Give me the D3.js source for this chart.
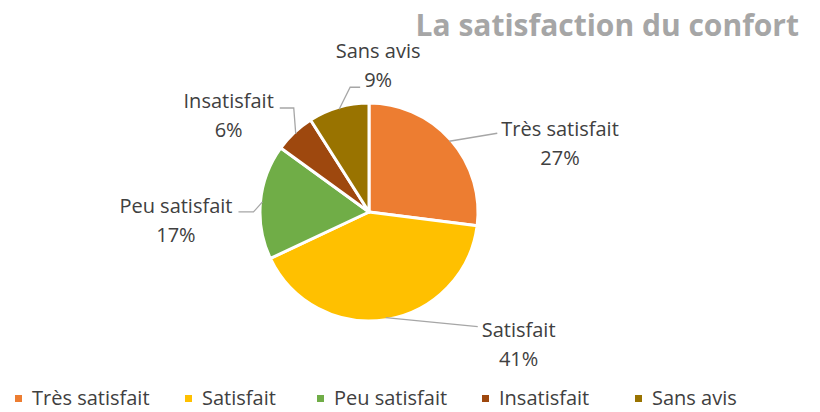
<!DOCTYPE html>
<html>
<head>
<meta charset="utf-8">
<script src="https://cdn.jsdelivr.net/npm/d3@7"></script>
<style>
  body { margin: 0; background: #fff; }
  text { font-family: "Open Sans", sans-serif; }
</style>
</head>
<body>
<div id="chart"></div>
<script>
// données
var categories = ["Très satisfait", "Satisfait", "Peu satisfait", "Insatisfait", "Sans avis"];
var values = [27, 41, 17, 6, 9];
var colors = ["#ED7D31", "#FFC000", "#70AD47", "#9E480E", "#997300"];

var width = 820, height = 412;
var cx = 369, cy = 212, radius = 109;

// leader line end relative to the slice edge, and text baseline offset (layout only)
var leaderEnd = [[48, -8], [92, 9], [-24, 10], [-16, -26], [21, -22]];
var textDy = [3, 10, 1, 0, 0];
var labelAnchor = ["start", "start", "end", "end", "top"];

var svg = d3.select("#chart").append("svg")
    .attr("width", width).attr("height", height);

svg.append("text")
    .attr("x", 799).attr("y", 36)
    .attr("text-anchor", "end")
    .style("font-size", "30px").style("font-weight", "bold")
    .style("fill", "#A6A6A6")
    .text("La satisfaction du confort");

var data = categories.map(function(c, i){ return {cat: c, val: values[i], color: colors[i]}; });
var total = d3.sum(values);

var pie = d3.pie().value(function(d){ return d.val; }).sort(null);
var arc = d3.arc().innerRadius(0).outerRadius(radius);
var arcs = pie(data);

var g = svg.append("g").attr("transform", "translate(" + cx + "," + cy + ")");

g.selectAll("path").data(arcs).enter().append("path")
    .attr("d", arc)
    .style("fill", function(d){ return d.data.color; })
    .style("stroke", "#fff")
    .style("stroke-width", 3)
    .style("stroke-linejoin", "round");

function polar(a, r){ return [Math.sin(a) * r, -Math.cos(a) * r]; }

arcs.forEach(function(d, i){
    var mid = (d.startAngle + d.endAngle) / 2;
    var p0 = polar(mid, radius - 2);
    var off = leaderEnd[i];
    var p1 = [p0[0] + off[0], p0[1] + off[1]];
    var pts;
    if (i == 2) pts = [p0, [p1[0] + 15, p1[1]], p1];
    else if (i == 3) pts = [p0, [p0[0] - 2, p1[1]], p1];
    else if (i == 4) pts = [p0, [p0[0] + 11, p1[1]], p1];
    else pts = [p0, p1];
    g.append("path")
        .attr("d", d3.line()(pts))
        .style("fill", "none").style("stroke", "#A6A6A6").style("stroke-width", 1.3);

    var a = labelAnchor[i];
    var t = g.append("text")
        .attr("text-anchor", "middle")
        .style("font-size", "20px").style("fill", "#404040");
    var l1 = t.append("tspan").text(d.data.cat);
    var l2 = t.append("tspan").attr("dy", 29)
        .text(Math.round(d.data.val / total * 100) + "%");
    var w1 = l1.node().getComputedTextLength();
    var w2 = l2.node().getComputedTextLength();
    var tx, ty;
    if (a == "start") { tx = p1[0] + 4 + w1 / 2; ty = p1[1] + textDy[i]; }
    else if (a == "end") { tx = p1[0] - 6 - w1 / 2; ty = p1[1] + textDy[i]; }
    else { tx = p1[0] + 4 + w2 / 2; ty = p1[1] - 29; }
    t.attr("y", ty);
    l1.attr("x", tx);
    l2.attr("x", tx);
});

// légende
var legendX = [15, 185, 317, 482, 635];
var leg = svg.append("g");
data.forEach(function(d, i){
    leg.append("rect")
        .attr("x", legendX[i]).attr("y", 395)
        .attr("width", 7).attr("height", 7)
        .style("fill", d.color);
    leg.append("text")
        .attr("x", legendX[i] + 17).attr("y", 405)
        .style("font-size", "20px").style("fill", "#404040")
        .text(d.cat);
});
</script>
</body>
</html>
